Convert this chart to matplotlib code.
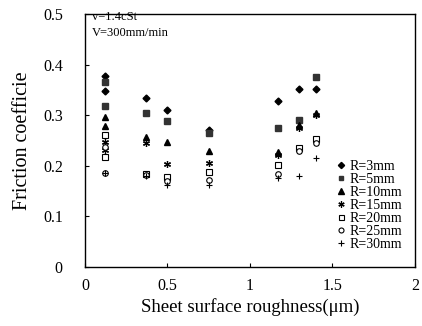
import numpy as np
import matplotlib.pyplot as plt

plt.rcParams['font.family'] = ['Liberation Serif', 'DejaVu Serif']

# roughness (um) for each measured point, two sheets near 0.12
x_pts = [0.12, 0.12, 0.37, 0.5, 0.75, 1.17, 1.3, 1.4]
x_r30 = [0.12, 0.37, 0.5, 0.75, 1.17, 1.3, 1.4]

r3 = [0.377, 0.347, 0.335, 0.310, 0.270, 0.328, 0.351, 0.351]
r5 = [0.365, 0.319, 0.304, 0.288, 0.265, 0.275, 0.290, 0.376]
r10 = [0.296, 0.278, 0.256, 0.248, 0.230, 0.228, 0.280, 0.305]
r15 = [0.248, 0.232, 0.246, 0.204, 0.206, 0.222, 0.275, 0.300]
r20 = [0.260, 0.218, 0.183, 0.177, 0.188, 0.202, 0.236, 0.252]
r25 = [0.238, 0.186, 0.181, 0.170, 0.172, 0.183, 0.230, 0.245]
r30 = [0.186, 0.180, 0.163, 0.162, 0.175, 0.180, 0.216]

labels = ['R=3mm', 'R=5mm', 'R=10mm', 'R=15mm', 'R=20mm', 'R=25mm', 'R=30mm']
y_ticks = [0, 0.1, 0.2, 0.3, 0.4, 0.5]
x_ticks = [0, 0.5, 1, 1.5, 2]

fig = plt.figure(figsize=(4.22, 3.26), dpi=100)
ax = fig.add_axes([0.2014, 0.181, 0.782, 0.776])

ax.plot(x_pts, r3, 'D', color='black', ms=3.5, label=labels[0])
ax.plot(x_pts, r5, 's', color='#333333', ms=3.8, label=labels[1])
ax.plot(x_pts, r10, '^', color='black', ms=4.2, label=labels[2])
ax.plot(x_pts, r15, marker=(6, 2, 0), ls='none', color='black', ms=5, mew=0.9, label=labels[3])
ax.plot(x_pts, r20, 's', mfc='white', mec='black', ms=4, mew=0.8, label=labels[4])
ax.plot(x_pts, r25, 'o', mfc='white', mec='black', ms=4, mew=0.8, label=labels[5])
ax.plot(x_r30, r30, '+', color='black', ms=5, mew=0.8, label=labels[6])

ax.set_xlim(0, 2)
ax.set_ylim(0, 0.5)
ax.set_xticks(x_ticks)
ax.set_xticklabels(['0', '0.5', '1', '1.5', '2'])
ax.set_yticks(y_ticks)
ax.set_yticklabels(['0', '0.1', '0.2', '0.3', '0.4', '0.5'])
ax.tick_params(direction='in', length=3, labelsize=11.5, width=0.8)
ax.tick_params(axis='x', pad=8)
ax.tick_params(axis='y', pad=16)
for s in ax.spines.values():
    s.set_linewidth(1.0)

ax.set_xlabel('Sheet surface roughness(μm)', fontsize=13.5, labelpad=3)
ax.set_ylabel('Friction coefficie', fontsize=14.5, labelpad=8)

ax.text(0.02, 0.99, 'v=1.4cSt', transform=ax.transAxes, fontsize=9,
        va='center', ha='left')
ax.text(0.02, 0.925, 'V=300mm/min', transform=ax.transAxes, fontsize=9,
        va='center', ha='left')

ax.legend(loc='lower right', bbox_to_anchor=(0.985, 0.03), frameon=False,
          fontsize=10, handlelength=0.6, handletextpad=0.3,
          labelspacing=0.0, borderpad=0.1, markerscale=0.9)

fig.savefig('out.png', dpi=100)
